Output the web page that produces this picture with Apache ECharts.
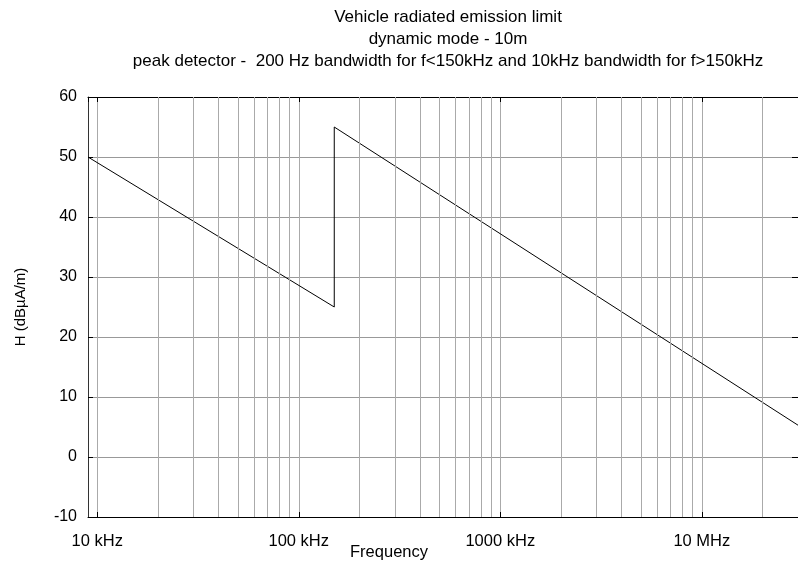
<!DOCTYPE html>
<html><head><meta charset="utf-8">
<script src="https://cdn.jsdelivr.net/npm/echarts@6.0.0/dist/echarts.min.js"></script>
<style>html,body{margin:0;padding:0;background:#fff}#c{width:798px;height:564px}</style>
</head><body><div id="c"></div>
<script>
const titleLines = [
  'Vehicle radiated emission limit',
  'dynamic mode - 10m',
  'peak detector -  200 Hz bandwidth for f<150kHz and 10kHz bandwidth for f>150kHz'
];
const xName = 'Frequency';
const yName = 'H (dBµA/m)';
// frequencies in kHz
const freqKHz = [9, 150, 150, 30000];
const limitDb = [50, 25, 55, 5.3];
const xMin = 9, xMax = 30000;
const yMin = -10, yMax = 60, yStep = 10;
const decadeTicks = [10, 100, 1000, 10000];
const decadeLabels = ['10 kHz', '100 kHz', '1000 kHz', '10 MHz'];
const minorGridKHz = [20, 30, 40, 50, 60, 70, 80, 90,
  200, 300, 400, 500, 600, 700, 800, 900,
  2000, 3000, 4000, 5000, 6000, 7000, 8000, 9000,
  20000];

const FONT = "'Liberation Sans', Arial, sans-serif";
const chart = echarts.init(document.getElementById('c'), null, {renderer: 'canvas'});
const fmt = v => {
  const i = decadeTicks.findIndex(t => Math.abs(Math.log10(v) - Math.log10(t)) < 1e-6);
  return i >= 0 ? decadeLabels[i] : '';
};
chart.setOption({
  animation: false,
  backgroundColor: '#fff',
  title: [
    {text: titleLines.join('\n'), left: 448, top: 6, textAlign: 'center', padding: 0,
     textStyle: {fontFamily: FONT, fontSize: 17, fontWeight: 'normal', color: '#000', lineHeight: 22}},
    {text: xName, left: 389, top: 544, textAlign: 'center', padding: 0,
     textStyle: {fontFamily: FONT, fontSize: 16.5, fontWeight: 'normal', color: '#000'}}
  ],
  grid: {left: 88, top: 97, width: 715, height: 420, containLabel: false},
  xAxis: [{
    type: 'log', logBase: 10, min: xMin, max: xMax, position: 'bottom',
    axisLine: {show: true, onZero: false, lineStyle: {color: '#000', width: 1}},
    axisTick: {show: true, inside: true, length: 5, lineStyle: {color: '#000'}},
    axisLabel: {formatter: fmt, fontFamily: FONT, fontSize: 16.5, color: '#000', margin: 16,
      showMinLabel: false, showMaxLabel: false, hideOverlap: false},
    splitLine: {show: true, lineStyle: {color: '#aaa', width: 1}},
    minorTick: {show: false}, minorSplitLine: {show: false}
  }, {
    type: 'log', logBase: 10, min: xMin, max: xMax, position: 'top',
    axisLine: {show: true, onZero: false, lineStyle: {color: '#000', width: 1}},
    axisTick: {show: true, inside: true, length: 5, lineStyle: {color: '#000'}},
    axisLabel: {show: false}, splitLine: {show: false}
  }],
  yAxis: [{
    type: 'value', min: yMin, max: yMax, interval: yStep, position: 'left',
    name: yName, nameLocation: 'middle', nameGap: 60,
    nameTextStyle: {fontFamily: FONT, fontSize: 15, color: '#000'},
    axisLine: {show: true, onZero: false, lineStyle: {color: '#333', width: 1}},
    axisTick: {show: true, inside: true, length: 5, lineStyle: {color: '#000'}},
    axisLabel: {fontFamily: FONT, fontSize: 16, color: '#000', margin: 11},
    splitLine: {show: true, lineStyle: {color: '#999', width: 1}}
  }, {
    type: 'value', min: yMin, max: yMax, interval: yStep, position: 'right',
    axisLine: {show: false, onZero: false},
    axisTick: {show: true, inside: true, length: 6, lineStyle: {color: '#000'}},
    axisLabel: {show: false}, splitLine: {show: false}
  }],
  series: [{
    type: 'line', z: 1, data: [], silent: true, symbol: 'none',
    markLine: {
      silent: true, symbol: ['none', 'none'], animation: false,
      label: {show: false},
      lineStyle: {color: '#aaa', width: 1, type: 'solid'},
      emphasis: {disabled: true},
      data: minorGridKHz.map(v => ({xAxis: v}))
    }
  }, {
    type: 'line', z: 3, symbol: 'none', silent: true,
    lineStyle: {color: '#000', width: 1},
    data: freqKHz.map((f, i) => [f, limitDb[i]])
  }]
});
</script>
</body></html>
